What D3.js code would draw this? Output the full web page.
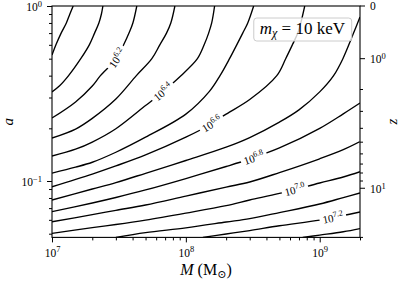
<!DOCTYPE html>
<html><head><meta charset="utf-8">
<script src="https://cdn.jsdelivr.net/npm/d3@7"></script>
<style>body{margin:0;background:#fff}text{font-family:"Liberation Serif","DejaVu Serif",serif;fill:#000}</style>
</head><body>
<svg id="chart" width="400" height="285"></svg>
<script>
// ---- data ----
const massDomain = [1e7, 2e9];
const aDomain = [1/21, 1];
const contourLevels = [6.0, 6.1, 6.2, 6.3, 6.4, 6.5, 6.6, 6.7, 6.8, 6.9, 7.0, 7.1, 7.2, 7.3];
const c60 = [[1e7,0.525],[1.07e7,0.6],[1.17e7,0.7],[1.28e7,0.8],[1.36e7,0.9],[1.44e7,1]];
const c61 = [[1e7,0.323],[1.14e7,0.35],[1.33e7,0.4],[1.64e7,0.5],[1.90e7,0.6],[2.08e7,0.7],[2.24e7,0.8],[2.34e7,0.9],[2.40e7,1]];
const c62 = [[1e7,0.229],[1.5e7,0.283],[2e7,0.349],[2.3e7,0.4],[3.03e7,0.5],[3.43e7,0.6],[3.76e7,0.7],[4.02e7,0.8],[4.3e7,1]];
const c63 = [[1e7,0.176],[1.5e7,0.198],[2e7,0.228],[3e7,0.294],[4.27e7,0.4],[5.57e7,0.5],[6.39e7,0.6],[7.17e7,0.7],[7.72e7,0.8],[8.28e7,1]];
const c64 = [[1e7,0.139],[1.5e7,0.152],[2e7,0.167],[3e7,0.199],[5e7,0.270],[5.97e7,0.3],[9.19e7,0.4],[1.22e8,0.5],[1.37e8,0.6],[1.48e8,0.7],[1.56e8,0.8],[1.64e8,1]];
const c65 = [[1e7,0.111],[1.5e7,0.120],[2e7,0.128],[3e7,0.146],[5e7,0.178],[1e8,0.241],[1.5e8,0.325],[1.8e8,0.4],[2.12e8,0.5],[2.40e8,0.6],[2.66e8,0.7],[2.90e8,0.8],[3.21e8,1]];
const c66 = [[1e7,0.0927],[2e7,0.1096],[3e7,0.122],[5e7,0.141],[1e8,0.178],[1.5e8,0.209],[2e8,0.241],[3e8,0.292],[4.78e8,0.4],[5.57e8,0.5],[6.25e8,0.6],[6.86e8,0.7],[7.22e8,0.8],[7.73e8,1]];
const c67 = [[1e7,0.0779],[2e7,0.0900],[3e7,0.098],[5e7,0.1107],[1e8,0.131],[2e8,0.156],[3e8,0.177],[5e8,0.217],[7e8,0.255],[1e9,0.323],[1.27e9,0.4],[1.49e9,0.5],[1.79e9,0.7],[2e9,0.865]];
const c68 = [[1e7,0.0668],[2e7,0.0749],[3e7,0.0805],[5e7,0.0889],[1e8,0.1033],[2e8,0.121],[3e8,0.1336],[5e8,0.1544],[1e9,0.200],[1.5e9,0.242],[2e9,0.279]];
const c69 = [[1e7,0.0585],[2e7,0.0642],[3e7,0.0680],[5e7,0.0729],[1e8,0.082],[2e8,0.0923],[3e8,0.0987],[5e8,0.1117],[1e9,0.134],[1.5e9,0.151],[2e9,0.168]];
const c70 = [[1e7,0.0502],[2e7,0.0541],[3e7,0.0564],[5e7,0.0598],[1e8,0.0656],[2e8,0.0724],[3e8,0.0779],[5e8,0.0849],[1e9,0.0974],[1.5e9,0.1054],[2e9,0.113]];
const c71 = [[3e7,0.0476],[5e7,0.0507],[1e8,0.054],[2e8,0.0583],[3e8,0.061],[5e8,0.066],[1e9,0.0739],[1.5e9,0.0804],[2e9,0.0854]];
const c72 = [[1.34e8,0.0476],[2e8,0.0498],[3e8,0.0521],[5e8,0.0555],[1e9,0.0598],[1.5e9,0.0635],[2e9,0.0665]];
const c73 = [[7.46e8,0.0476],[1e9,0.0491],[1.5e9,0.0513],[2e9,0.0535]];
const contourLines = [c60,c61,c62,c63,c64,c65,c66,c67,c68,c69,c70,c71,c72,c73];
const labeledLevels = [6.2, 6.4, 6.6, 6.8, 7.0, 7.2];
const labelAtMass = [3.05e7, 6.73e7, 1.56e8, 3.21e8, 6.5e8, 1.25e9];
const xMajor = [1e7, 1e8, 1e9];
const xMajorExp = ["7", "8", "9"];
const xMinor = [2e7,3e7,4e7,5e7,6e7,7e7,8e7,9e7,2e8,3e8,4e8,5e8,6e8,7e8,8e8,9e8,2e9];
const yMajor = [1, 0.1];
const yMajorExp = ["0", "\u22121"];
const yMinor = [0.05,0.06,0.07,0.08,0.09,0.2,0.3,0.4,0.5,0.6,0.7,0.8,0.9];
const zMajor = [0, 1, 10];
const zMajorLabel = [["0",""], ["10","0"], ["10","1"]];
const zMinor = [2,3,4,5,6,7,8,9,20];
const legendLabel = {m:"m", sub:"\u03c7", rest:" = 10 keV"};

// ---- layout ----
const svg = d3.select("#chart");
const margin = {left:52, top:6, right:40, bottom:48};
const W = 400 - margin.left - margin.right;
const H = 285 - margin.top - margin.bottom + 0.4;
const g = svg.append("g").attr("transform", `translate(${margin.left},${margin.top})`);

const x = d3.scaleLog().domain(massDomain).range([0, W]);
const y = d3.scaleLog().domain(aDomain).range([H, 0]);
const yz = z => y(1/(1+z));

const defs = svg.append("defs");
defs.append("clipPath").attr("id","clip").append("rect").attr("width",W).attr("height",H);
const mask = defs.append("mask").attr("id","gapmask").attr("maskUnits","userSpaceOnUse")
  .attr("x",-60).attr("y",-20).attr("width",500).attr("height",340);
mask.append("rect").attr("x",-60).attr("y",-20).attr("width",500).attr("height",340).attr("fill","#fff");

const line = d3.line().x(d => x(d[0])).y(d => y(d[1])).curve(d3.curveCatmullRom.alpha(0.5));
const cg = g.append("g").attr("clip-path","url(#clip)");
const inner = cg.append("g").attr("mask","url(#gapmask)");
const paths = inner.selectAll("path.c").data(contourLines).join("path")
  .attr("class","c").attr("d", line).attr("fill","none").attr("stroke","#000").attr("stroke-width",1.35);

// contour labels
const lblG = g.append("g");
labeledLevels.forEach((lev, i) => {
  const idx = contourLevels.indexOf(lev);
  const node = paths.nodes()[idx];
  const L = node.getTotalLength();
  const px = x(labelAtMass[i]);
  let best = null, bd = 1e9, bl = 0;
  for (let l = 0; l <= L; l += 0.5) {
    const p = node.getPointAtLength(l);
    const d = Math.abs(p.x - px);
    if (d < bd) { bd = d; best = p; bl = l; }
  }
  const p1 = node.getPointAtLength(Math.max(0, bl - 5)), p2 = node.getPointAtLength(Math.min(L, bl + 5));
  let ang = Math.atan2(p2.y - p1.y, p2.x - p1.x) * 180 / Math.PI;
  if (ang > 90) ang -= 180; if (ang < -90) ang += 180;
  const t = lblG.append("text").attr("text-anchor","middle")
    .attr("transform", `translate(${best.x},${best.y}) rotate(${ang})`)
    .attr("dy", "0.38em").attr("font-size", 11);
  t.append("tspan").text("10");
  t.append("tspan").attr("dy", -4.5).attr("font-size", 8).text(lev.toFixed(1));
  const tw = t.node().getComputedTextLength();
  mask.append("rect").attr("x", -tw/2 - 3).attr("y", -4.5).attr("width", tw + 6).attr("height", 9)
    .attr("transform", `translate(${best.x},${best.y}) rotate(${ang})`).attr("fill","#000");
});

// axes
function styleAxis(sel){ sel.select(".domain").remove(); sel.selectAll(".tick line").attr("stroke","#000").attr("stroke-width",1); }
g.append("g").attr("transform",`translate(0,${H})`)
  .call(d3.axisBottom(x).tickValues(xMinor).tickSize(3).tickFormat("")).call(styleAxis);
const gx = g.append("g").attr("transform",`translate(0,${H})`)
  .call(d3.axisBottom(x).tickValues(xMajor).tickSize(5).tickFormat("")).call(styleAxis);
gx.selectAll(".tick").each(function(d, i){
  const t = d3.select(this).select("text").attr("y", 20).attr("dy", 0).attr("font-size", 11.5).attr("fill","#000");
  t.append("tspan").text("10");
  t.append("tspan").attr("dy", -5).attr("font-size", 8.5).text(xMajorExp[i]);
});
g.append("g").call(d3.axisLeft(y).tickValues(yMinor).tickSize(3).tickFormat("")).call(styleAxis);
const gy = g.append("g").call(d3.axisLeft(y).tickValues(yMajor).tickSize(5).tickFormat("")).call(styleAxis);
gy.selectAll(".tick").each(function(d, i){
  const t = d3.select(this).select("text").attr("x", -10).attr("dy", "0.38em").attr("font-size", 11.5).attr("fill","#000");
  t.append("tspan").text("10");
  t.append("tspan").attr("dy", -4).attr("font-size", 8.5).text(yMajorExp[i]);
});
// right z axis
const gr = g.append("g").attr("transform",`translate(${W},0)`);
gr.selectAll("line.zmin").data(zMinor).join("line").attr("class","zmin").attr("x1",0).attr("x2",3)
  .attr("y1", d => yz(d)).attr("y2", d => yz(d)).attr("stroke","#000");
gr.selectAll("line.zmaj").data(zMajor).join("line").attr("class","zmaj").attr("x1",0).attr("x2",5)
  .attr("y1", d => yz(d)).attr("y2", d => yz(d)).attr("stroke","#000");
zMajor.forEach((z, i) => {
  const t = gr.append("text").attr("x", 10).attr("y", yz(z)).attr("dy","0.38em").attr("font-size", 11.5);
  t.append("tspan").text(zMajorLabel[i][0]);
  if (zMajorLabel[i][1]) t.append("tspan").attr("dy", -4).attr("font-size", 8.5).text(zMajorLabel[i][1]);
});

// frame
g.append("rect").attr("width", W).attr("height", H).attr("fill","none").attr("stroke","#000").attr("stroke-width",1.1);

// axis labels
const xl = g.append("text").attr("x", W/2).attr("y", H + 38).attr("text-anchor","middle").attr("font-size", 16);
xl.append("tspan").attr("font-style","italic").text("M");
xl.append("tspan").text(" (M");
xl.append("tspan").attr("font-size", 11).attr("dy", 3).text("\u2299");
xl.append("tspan").attr("dy", -3).text(")");
g.append("text").attr("transform", `translate(${-39},${H/2}) rotate(-90)`).attr("text-anchor","middle")
  .attr("font-size", 15).attr("font-style","italic").text("a");
g.append("text").attr("transform", `translate(${W+37},${H/2}) rotate(-90)`).attr("text-anchor","middle")
  .attr("font-size", 15).attr("font-style","italic").text("z");

// legend box
const lg = g.append("g");
const lt = lg.append("text").attr("x", W - 15).attr("y", 28).attr("text-anchor","end").attr("font-size", 17);
lt.append("tspan").attr("font-style","italic").text(legendLabel.m);
lt.append("tspan").attr("font-style","italic").attr("font-size", 12).attr("dy", 3).text(legendLabel.sub);
lt.append("tspan").attr("dy", -3).text(legendLabel.rest);
const bb = lt.node().getBBox();
lg.insert("rect", "text").attr("x", bb.x - 6).attr("y", bb.y - 1).attr("width", bb.width + 12).attr("height", bb.height + 2)
  .attr("rx", 3).attr("fill", "rgba(255,255,255,0.8)").attr("stroke", "#cccccc").attr("stroke-width", 1);
</script>
</body></html>
